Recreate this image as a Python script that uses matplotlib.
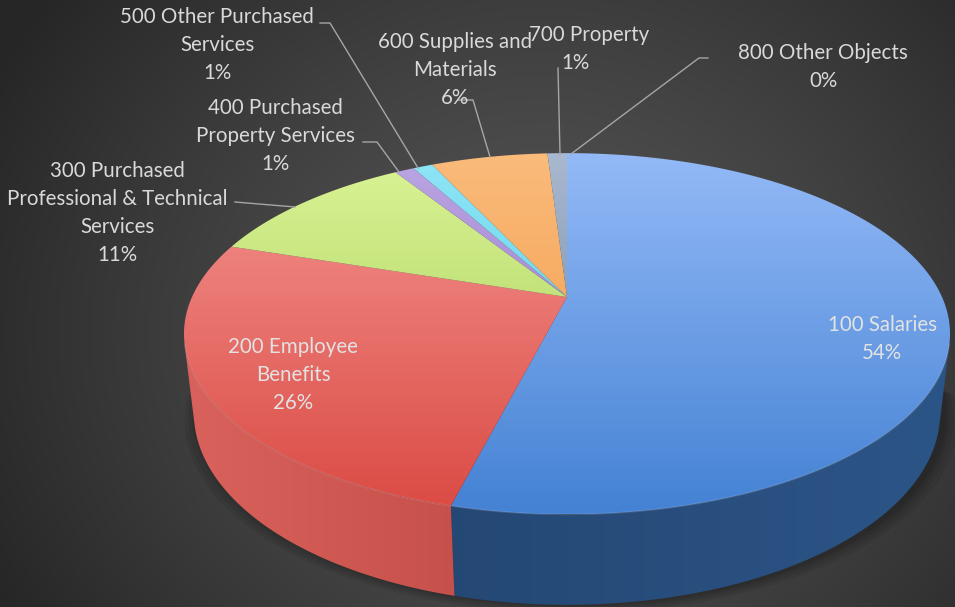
"""3D-style budget pie chart on a dark radial background."""
import numpy as np
import matplotlib
matplotlib.use("Agg")
import matplotlib.pyplot as plt
from matplotlib.colors import to_rgb
from matplotlib.patches import Polygon

plt.rcParams["font.family"] = ["Lato", "DejaVu Sans"]

# ---------------- data ----------------
CATEGORIES = [
    "100 Salaries",
    "200 Employee\nBenefits",
    "300 Purchased\nProfessional & Technical\nServices",
    "400 Purchased\nProperty Services",
    "500 Other Purchased\nServices",
    "600 Supplies and\nMaterials",
    "700 Property",
    "800 Other Objects",
]
SHARES = [54, 26, 11, 1, 1, 6, 1, 0]

# top face colours (light, dark) and side colours (left, right)
TOP_COLORS = [
    ("#94BAF7", "#4381D3"),
    ("#F59592", "#DA4942"),
    ("#DBF497", "#A0C84F"),
    ("#BCA6E4", "#8A6BC0"),
    ("#8FE6F7", "#4CC3DF"),
    ("#FABB7C", "#F2943A"),
    ("#A9B9CF", "#64799C"),
    ("#B0B0B0", "#808080"),
]
SIDE_COLORS = [
    ("#21416B", "#2C5587"),
    ("#DA625C", "#A2302C"),
    ("#7E9C3A", "#7E9C3A"),
    ("#6B549A", "#6B549A"),
    ("#3A9DB5", "#3A9DB5"),
    ("#C7762C", "#C7762C"),
    ("#4E5F7C", "#4E5F7C"),
    ("#666666", "#666666"),
]

# ---------------- canvas ----------------
W, H_PX = 955, 607
fig = plt.figure(figsize=(W / 100, H_PX / 100), dpi=100)
ax = fig.add_axes([0, 0, 1, 1])
ax.axis("off")

# radial background
yy, xx = np.mgrid[0:H_PX:4, 0:W:4]
r = np.hypot((xx - 540) / 620, (yy - 330) / 560)
t = np.clip(r, 0, 1) ** 1.3
c_in, c_out = np.array(to_rgb("#555555")), np.array(to_rgb("#262626"))
bg = c_in * (1 - t[..., None]) + c_out * t[..., None]
ax.imshow(bg, extent=(0, W, H_PX, 0), interpolation="bilinear",
          aspect="auto", zorder=0)

# ---------------- projection ----------------
CX, CY, R = 567, 297, 375
ELEV = np.radians(27.5)
DIST = 4.36
THICK = 0.24


def project(theta, y):
    x3 = np.sin(theta)
    z3 = -np.cos(theta)
    u = y * np.cos(ELEV) - z3 * np.sin(ELEV)
    w = y * np.sin(ELEV) + z3 * np.cos(ELEV)
    s = DIST / (DIST - w)
    return CX + R * x3 * s, CY - R * u * s


def grad_fill(xs, ys, c0, c1, lo, hi, axis="y", zorder=2):
    poly = Polygon(np.column_stack([xs, ys]), closed=True,
                   facecolor="none", edgecolor="none", zorder=zorder)
    ax.add_patch(poly)
    x0, x1, y0, y1 = xs.min(), xs.max(), ys.min(), ys.max()
    n = 96
    a0, a1 = np.array(to_rgb(c0)), np.array(to_rgb(c1))
    if axis == "y":
        pos = np.linspace(y0, y1, n)
    else:
        pos = np.linspace(x0, x1, n)
    f = np.clip((pos - lo) / (hi - lo), 0, 1)[:, None]
    cols = a0 * (1 - f) + a1 * f
    img = cols[:, None, :] if axis == "y" else cols[None, :, :]
    im = ax.imshow(img, extent=(x0, x1, y1, y0), interpolation="bilinear",
                   aspect="auto", zorder=zorder)
    im.set_clip_path(poly)


vals = np.array(SHARES, dtype=float)
edges = np.concatenate([[0], np.cumsum(vals)]) / vals.sum() * 2 * np.pi
k = 1 / (DIST * np.cos(ELEV))
vis_lo, vis_hi = np.arccos(-k), 2 * np.pi - np.arccos(-k)

# soft shadow
for i, grow in enumerate([14, 10, 6, 3]):
    th = np.linspace(vis_lo - 0.2, vis_hi + 0.2, 200)
    bx, by = project(th, -THICK)
    sx = CX + (bx - CX) * (1 + grow / 400) + 4
    sy = by + grow * 0.6
    ax.fill(np.concatenate([sx, [CX]]), np.concatenate([sy, [CY]]),
            color="black", alpha=0.07, lw=0, zorder=1)

# side walls
for i in range(len(vals)):
    a, b = max(edges[i], vis_lo), min(edges[i + 1], vis_hi)
    if b <= a:
        continue
    th = np.linspace(a, b, 120)
    tx, ty = project(th, 0)
    bx, by = project(th[::-1], -THICK)
    xs, ys = np.concatenate([tx, bx]), np.concatenate([ty, by])
    grad_fill(xs, ys, SIDE_COLORS[i][0], SIDE_COLORS[i][1], 185, 950,
              axis="x", zorder=2)

# top faces
for i in range(len(vals)):
    a, b = edges[i], edges[i + 1]
    if b - a < 1e-6:
        continue
    th = np.linspace(a, b, max(int((b - a) * 80), 6))
    tx, ty = project(th, 0)
    xs = np.concatenate([[CX], tx])
    ys = np.concatenate([[CY], ty])
    grad_fill(xs, ys, TOP_COLORS[i][0], TOP_COLORS[i][1], 150, 520,
              axis="y", zorder=3)

# subtle rim highlight on the front edge
th = np.linspace(vis_lo, vis_hi, 200)
rx, ry = project(th, 0)
ax.plot(rx, ry, color="white", alpha=0.12, lw=1.2, zorder=4)

# ---------------- labels ----------------
LINE = 28
TXT = "#D9D9D9"
FS = 14.8


def label(x, y, lines, color=TXT):
    for j, s in enumerate(lines):
        ax.text(x, y + j * LINE, s, ha="center", va="center",
                fontsize=FS, color=color, zorder=6)


pct = [f"{v / vals.sum() * 100:.0f}%" for v in vals]
lab_pos = {
    0: (882, 325),
    1: (293, 347),
    2: (117, 171),
    3: (275, 108),
    4: (217, 17),
    5: (455, 42),
    7: (823, 53),
}
inside = {0, 1}
for i, (x, y) in lab_pos.items():
    lines = CATEGORIES[i].split("\n") + [pct[i]]
    label(x, y, lines, color="#E2E2E2" if i in inside else TXT)
# 700 label sits slightly off-centre in the reference
ax.text(589, 35, CATEGORIES[6], ha="center", va="center", fontsize=FS,
        color=TXT, zorder=6)
ax.text(575, 63, pct[6], ha="center", va="center", fontsize=FS,
        color=TXT, zorder=6)

LEADER = "#A6A6A6"
leaders = [
    [(320, 23), (330, 23), (418, 168)],
    [(363, 142), (377, 142), (399, 172)],
    [(235, 202), (295, 207)],
    [(458, 100), (473, 100), (490, 157)],
    [(558, 68), (560, 154)],
    [(708, 58), (699, 58), (571, 154)],
]
for pts in leaders:
    px, py = zip(*pts)
    ax.plot(px, py, color=LEADER, lw=1.0, zorder=5)

ax.set_xlim(0, W)
ax.set_ylim(H_PX, 0)
fig.savefig("out.png", dpi=100)
